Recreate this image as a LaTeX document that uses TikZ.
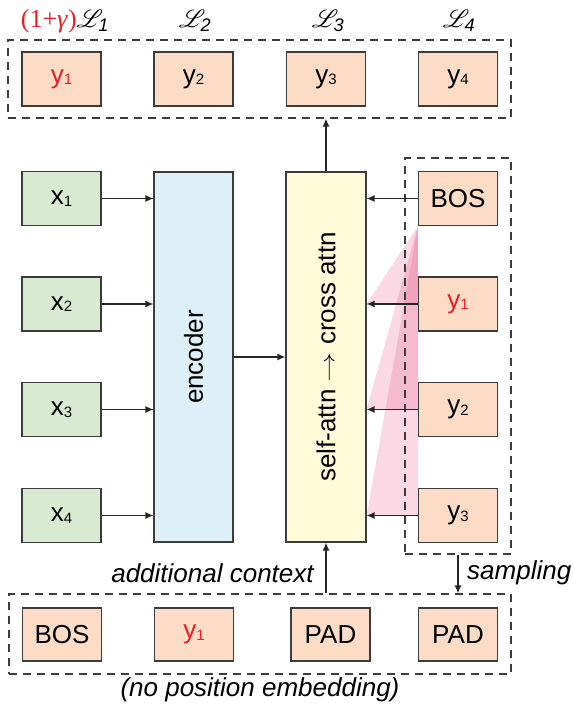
\documentclass[tikz,border=0pt]{standalone}
\usepackage{fontspec}
\setmainfont{Liberation Sans}
\newfontfamily\serifLS{Liberation Serif}
\usepackage{mathrsfs}
\usepackage{graphicx}
\usetikzlibrary{arrows.meta,backgrounds}
\definecolor{gbox}{RGB}{217,234,211}
\definecolor{bbox}{RGB}{222,240,247}
\definecolor{ybox}{RGB}{255,250,215}
\definecolor{obox}{RGB}{252,220,196}
\definecolor{redtxt}{RGB}{232,30,40}
\definecolor{edge}{RGB}{60,60,60}
\definecolor{pinkc}{RGB}{230,80,130}
\newcommand\sbs[1]{\raisebox{-1.5pt}{\fontsize{15}{15}\selectfont #1}}
\newcommand\thinarrow{{\fontsize{10}{12}\selectfont\raisebox{1pt}{\scalebox{3.0}[2.0]{$\rightarrow$}}}}
\begin{document}
\begin{tikzpicture}[x=1pt,y=-1pt,
  box/.style={draw=edge,line width=1.2pt,inner sep=0pt,minimum width=79pt,minimum height=54pt,font=\fontsize{26}{30}\selectfont},
  xbox/.style={box,fill=gbox},
  tbox/.style={box,fill=obox},
  tall/.style={box,minimum height=370pt},
  dbox/.style={draw=edge,dashed,dash pattern=on 8pt off 6pt,line width=1.2pt,inner sep=0pt},
  arr/.style={draw=black!85,line width=1.3pt,-{Latex[length=8pt,width=7pt]}},
  lab/.style={font=\fontsize{26}{30}\selectfont\itshape,inner sep=0pt},
  loss/.style={font=\serifLS\fontsize{26}{28}\selectfont,inner sep=0pt},
  pinkfill/.style={fill=pinkc,fill opacity=0.22}]
\useasboundingbox (0,0) rectangle (572,708);
% dashed group boxes
\node[dbox,minimum width=503pt,minimum height=78pt] (topg) at (259.5,79) {};
\node[dbox,minimum width=106pt,minimum height=396pt] (rg) at (458,356) {};
\node[dbox,minimum width=502pt,minimum height=80pt] (botg) at (260,634) {};
% top outputs
\node[tbox] (o1) at (61.5,79) {\color{redtxt}y\sbs{1}};
\node[tbox] (o2) at (193.5,79) {y\sbs{2}};
\node[tbox] (o3) at (326,79) {y\sbs{3}};
\node[tbox] (o4) at (458,79) {y\sbs{4}};
% loss labels
\node[loss] (l1) at (65,21) {\color{redtxt}(1+\textit{γ})\color{black}$\mathscr{L}_{\mathit{1}}$};
\node[loss] (l2) at (195,21) {$\mathscr{L}_{\mathit{2}}$};
\node[loss] (l3) at (328,21) {$\mathscr{L}_{\mathit{3}}$};
\node[loss] (l4) at (459,21) {$\mathscr{L}_{\mathit{4}}$};
% inputs
\node[xbox] (x1) at (61.5,198.5) {x\sbs{1}};
\node[xbox] (x2) at (61.5,304) {x\sbs{2}};
\node[xbox] (x3) at (61.5,409.5) {x\sbs{3}};
\node[xbox] (x4) at (61.5,515.5) {x\sbs{4}};
% encoder / decoder
\node[tall,fill=bbox] (enc) at (193.5,357) {\rotatebox{90}{encoder}};
\node[tall,fill=ybox,minimum width=80pt] (dec) at (326,357) {\rotatebox{90}{self-attn \thinarrow{} cross attn}};
% right tokens
\node[tbox] (r0) at (458,198.5) {BOS};
\node[tbox] (r1) at (458,304) {\color{redtxt}y\sbs{1}};
\node[tbox] (r2) at (458,409.5) {y\sbs{2}};
\node[tbox] (r3) at (458,515.5) {y\sbs{3}};
% bottom context
\node[tbox,minimum height=53pt] (b1) at (62,634.5) {BOS};
\node[tbox,minimum height=53pt] (b2) at (194,634.5) {\color{redtxt}y\sbs{1}};
\node[tbox,minimum height=53pt] (b3) at (330.5,634.5) {PAD};
\node[tbox,minimum height=53pt] (b4) at (458,634.5) {PAD};
% attention fans
\begin{scope}[on background layer]
\fill[pinkfill] (r0.south west) -- (r1.west -| dec.east) -- (r1.west) -- cycle;
\fill[pinkfill] (r0.south west) -- (r2.west -| dec.east) -- (r2.west) -- cycle;
\fill[pinkfill] (r0.south west) -- (r3.west -| dec.east) -- (r3.west) -- cycle;
\end{scope}
% arrows
\foreach \i in {1,2,3,4} \draw[arr] (x\i.east) -- (x\i.east -| enc.west);
\draw[arr] (enc.east) -- (dec.west);
\foreach \i in {0,1,2,3} \draw[arr] (r\i.west) -- (r\i.west -| dec.east);
\draw[arr] (dec.north) -- (dec.north |- topg.south);
\draw[arr] (dec.south |- botg.north) -- (dec.south);
\draw[arr] (r3.south |- rg.south) -- (r3.south |- botg.north);
% text labels
\node[lab] (ac) at (212.5,573) {additional context};
\node[lab,anchor=west] (sp) at (467,573) {sampling};
\node[lab] (np) at (260,690) {(no position embedding)};
\end{tikzpicture}
\end{document}
